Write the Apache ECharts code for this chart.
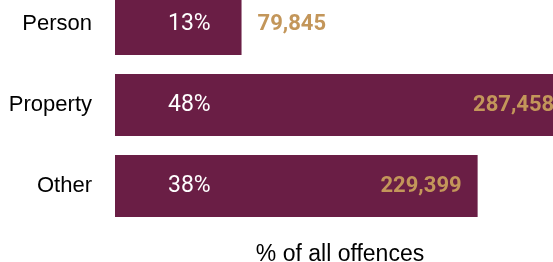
<!DOCTYPE html>
<html lang="en">
<head>
    <meta charset="UTF-8">
    <title>Offences by type</title>
    <script src="https://cdn.jsdelivr.net/npm/echarts@6/dist/echarts.min.js"></script>
    <style>
        html, body { margin: 0; padding: 0; background: #fff; }
    </style>
</head>
<body>
<div id="chart" style="width: 553px; height: 262px;"></div>
<script>
    // offence categories, share of all offences (%) and counts
    var categories = ['Person', 'Property', 'Other'];
    var percents = [13.4, 48.2, 38.4];
    var pctLabels = ['13%', '48%', '38%'];
    var counts = ['79,845', '287,458', '229,399'];

    var maroon = '#6a1e45';
    var tan = '#c3965a';

    var countData = percents.map(function (v, i) {
        // the small bar gets its count outside, the others inside
        var small = v < 20;
        return {
            value: v,
            label: {
                position: small ? 'right' : 'insideRight',
                distance: 16
            }
        };
    });

    var chart = echarts.init(document.getElementById('chart'));
    chart.setOption({
        animation: false,
        grid: {
            left: 115,
            right: -20,
            top: -16.5,
            bottom: 35.5,
            containLabel: false,
            outerBoundsMode: 'none'
        },
        xAxis: {
            type: 'value',
            min: 0,
            max: 48.5,
            name: '% of all offences',
            nameLocation: 'middle',
            nameGap: 17,
            nameTextStyle: {
                fontFamily: 'Liberation Sans',
                fontSize: 23,
                color: '#000',
                padding: [0, 8, 0, 0]
            },
            axisLine: { show: false },
            axisTick: { show: false },
            axisLabel: { show: false },
            splitLine: { show: false }
        },
        yAxis: {
            type: 'category',
            inverse: true,
            data: categories,
            axisLine: { show: false },
            axisTick: { show: false },
            axisLabel: {
                margin: 23,
                fontFamily: 'Liberation Sans',
                fontSize: 22,
                color: '#000',
                padding: [3, 0, 0, 0]
            }
        },
        series: [{
            type: 'bar',
            data: percents,
            barWidth: 62,
            itemStyle: { color: maroon },
            label: {
                show: true,
                position: 'insideLeft',
                distance: 53,
                fontFamily: 'Roboto',
                fontSize: 23,
                color: '#fff',
                formatter: function (p) { return pctLabels[p.dataIndex]; }
            }
        }, {
            type: 'bar',
            data: countData,
            barWidth: 62,
            barGap: '-100%',
            itemStyle: { color: 'rgba(0,0,0,0)' },
            label: {
                show: true,
                fontFamily: 'Roboto',
                fontWeight: 'bold',
                fontSize: 22,
                color: tan,
                formatter: function (p) { return counts[p.dataIndex]; }
            }
        }]
    });
</script>
</body>
</html>
